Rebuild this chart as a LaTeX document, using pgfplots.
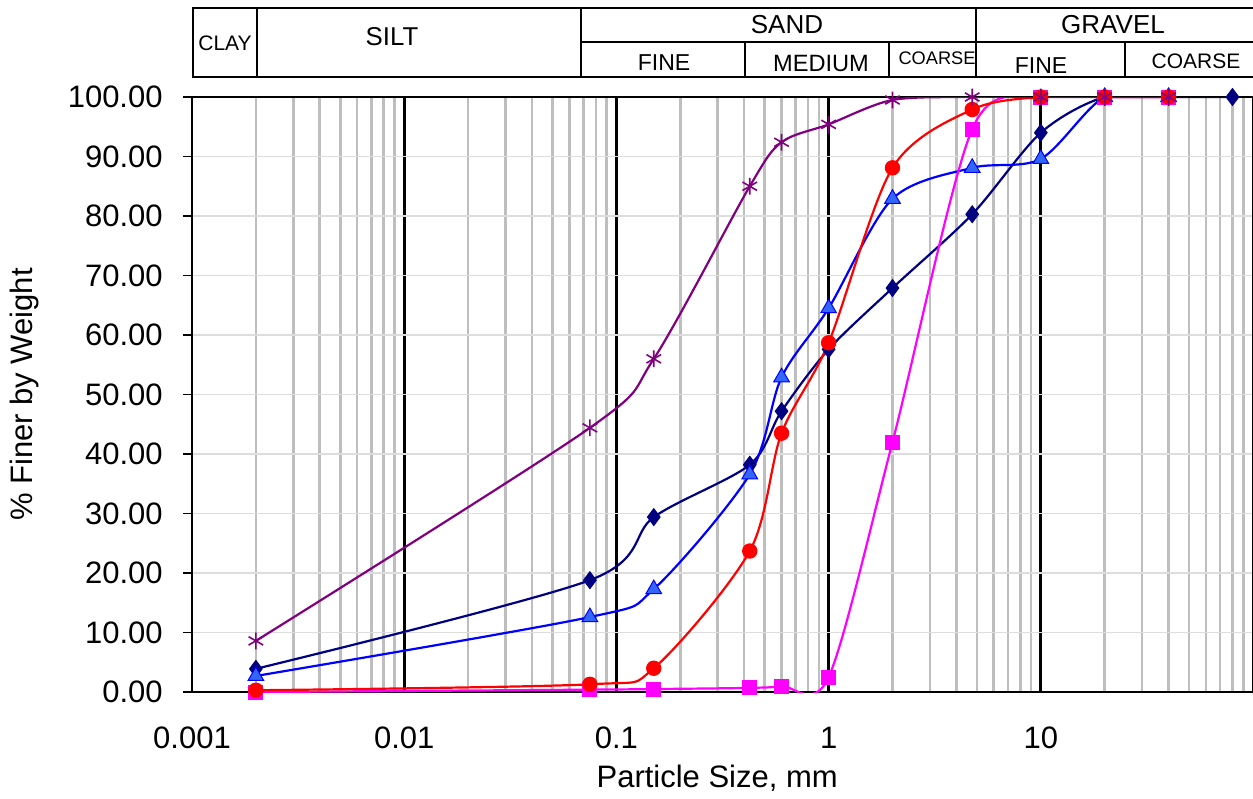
\documentclass[border=0pt]{standalone}
\usepackage{pgfplots}
\pgfplotsset{compat=1.18}
\usepackage{fontspec}
\setmainfont{Liberation Sans}
\definecolor{cpurple}{RGB}{128,0,128}
\definecolor{cnavy}{RGB}{0,0,128}
\definecolor{cblue}{RGB}{0,0,255}
\definecolor{ctri}{RGB}{51,102,255}
\definecolor{cred}{RGB}{255,0,0}
\definecolor{cmag}{RGB}{255,0,255}
\definecolor{minorgrid}{RGB}{190,190,190}
\definecolor{ygrid}{RGB}{221,221,221}
\begin{document}
\begin{tikzpicture}
\begin{axis}[
  name=ax,
  at={(96bp,-346bp)}, anchor=south west,
  scale only axis, width=530.5bp, height=297.5bp,
  xmode=log, log basis x=10,
  xmin=0.001, xmax=100, ymin=0, ymax=100,
  xtick={0.001,0.01,0.1,1,10},
  xticklabels={0.001,0.01,0.1,1,10},
  minor xtick={0.002,0.003,0.004,0.005,0.006,0.007,0.008,0.009,
               0.02,0.03,0.04,0.05,0.06,0.07,0.08,0.09,
               0.2,0.3,0.4,0.5,0.6,0.7,0.8,0.9,
               2,3,4,5,6,7,8,9,20,30,40,50,60,70,80,90},
  ytick={0,10,...,100},
  yticklabels={0.00,10.00,20.00,30.00,40.00,50.00,60.00,70.00,80.00,90.00,100.00},
  xmajorgrids, xminorgrids, ymajorgrids,
  major x grid style={black, line width=1.4bp},
  minor x grid style={minorgrid, line width=1.3bp},
  major y grid style={ygrid, line width=0.7bp},
  xtick style={draw=none}, minor x tick style={draw=none},
  ytick pos=left,
  ytick style={black, line width=0.8bp},
  tick align=outside, major tick length=4.5bp,
  axis line style={black, line width=1.3bp},
  tick label style={font=\fontsize{15.5bp}{18bp}\selectfont},
  yticklabel style={anchor=east, inner sep=0pt, xshift=-10bp},
  xticklabel style={anchor=center, inner sep=0pt, yshift=-18.5bp},
  xlabel={Particle Size, mm},
  ylabel={\% Finer by Weight},
  every axis x label/.style={at={(axis description cs:0.495,-0.1445)}, anchor=center,
     font=\fontsize{15.5bp}{18bp}\selectfont},
  every axis y label/.style={at={(axis description cs:-0.158,0.5)}, rotate=90, anchor=center,
     font=\fontsize{15.5bp}{18bp}\selectfont},
  clip marker paths=false,
]
\addplot[cnavy, line width=1.1bp, smooth, mark=diamond*, mark size=4.2bp,
  mark options={fill=cnavy, draw=cnavy, line width=0.5bp}]
  coordinates {(0.002,3.9)(0.075,18.8)(0.15,29.4)(0.425,38.2)(0.6,47.2)(1,57.6)(2,67.9)(4.75,80.3)(10,94.0)(20,100)(40,100)(80,100)};
\addplot[cblue, line width=1.1bp, smooth, mark=triangle*, mark size=4.5bp,
  mark options={fill=ctri, draw=cblue, line width=0.5bp}]
  coordinates {(0.002,2.7)(0.075,12.6)(0.15,17.3)(0.425,36.6)(0.6,52.9)(1,64.5)(2,82.9)(4.75,88.1)(10,89.6)(20,100)(40,100)};
\addplot[cmag, line width=1.1bp, smooth, mark=square*, mark size=3.5bp,
  mark options={fill=cmag, draw=cmag, line width=0.5bp}]
  coordinates {(0.002,0)(0.075,0.4)(0.15,0.5)(0.425,0.7)(0.6,1.0)(1,2.5)(2,42.0)(4.75,94.6)(10,100)(20,100)(40,100)};
\addplot[cred, line width=1.1bp, smooth, mark=*, mark size=3.6bp,
  mark options={fill=cred, draw=cred, line width=0.5bp}]
  coordinates {(0.002,0.3)(0.075,1.3)(0.15,4.0)(0.425,23.7)(0.6,43.5)(1,58.7)(2,88.1)(4.75,97.9)(10,100)(20,100)(40,100)};
\addplot[cpurple, line width=1.1bp, smooth, mark=asterisk, mark size=4.2bp,
  mark options={draw=cpurple, line width=0.8bp}]
  coordinates {(0.002,8.6)(0.075,44.4)(0.15,56.0)(0.425,85.0)(0.6,92.4)(1,95.4)(2,99.5)(4.75,100)(10,100)(20,100)(40,100)};
\end{axis}
\begin{scope}[x=0.5bp,y=-0.5bp]
  \draw[line width=1.1bp] (1253,8) -- (193,8) -- (193,77) -- (1253,77);
  \draw[line width=1.1bp] (257,8) -- (257,77);
  \draw[line width=1.1bp] (581,8) -- (581,77);
  \draw[line width=1.1bp] (581,42) -- (1253,42);
  \draw[line width=1.1bp] (745,42) -- (745,77);
  \draw[line width=1.1bp] (889,42) -- (889,77);
  \draw[line width=1.1bp] (976,8) -- (976,77);
  \draw[line width=1.1bp] (1125,42) -- (1125,77);
  \node[font=\fontsize{10.5bp}{12bp}\selectfont, inner sep=0pt] at (225,43) {CLAY};
  \node[font=\fontsize{12.9bp}{14bp}\selectfont, inner sep=0pt] at (392,37) {SILT};
  \node[font=\fontsize{13bp}{14bp}\selectfont, inner sep=0pt] at (787,25) {SAND};
  \node[font=\fontsize{13bp}{14bp}\selectfont, inner sep=0pt] at (1113,25) {GRAVEL};
  \node[font=\fontsize{11.5bp}{13bp}\selectfont, inner sep=0pt] at (664,63) {FINE};
  \node[font=\fontsize{11.8bp}{13bp}\selectfont, inner sep=0pt] at (821,63) {MEDIUM};
  \node[font=\fontsize{9.1bp}{10bp}\selectfont, inner sep=0pt] at (937,58) {COARSE};
  \node[font=\fontsize{11.5bp}{13bp}\selectfont, inner sep=0pt] at (1041,66) {FINE};
  \node[font=\fontsize{10.5bp}{12bp}\selectfont, inner sep=0pt] at (1196,61) {COARSE};
  \pgfresetboundingbox
  \path (0,0) rectangle (1253,798);
\end{scope}
\end{tikzpicture}
\end{document}
